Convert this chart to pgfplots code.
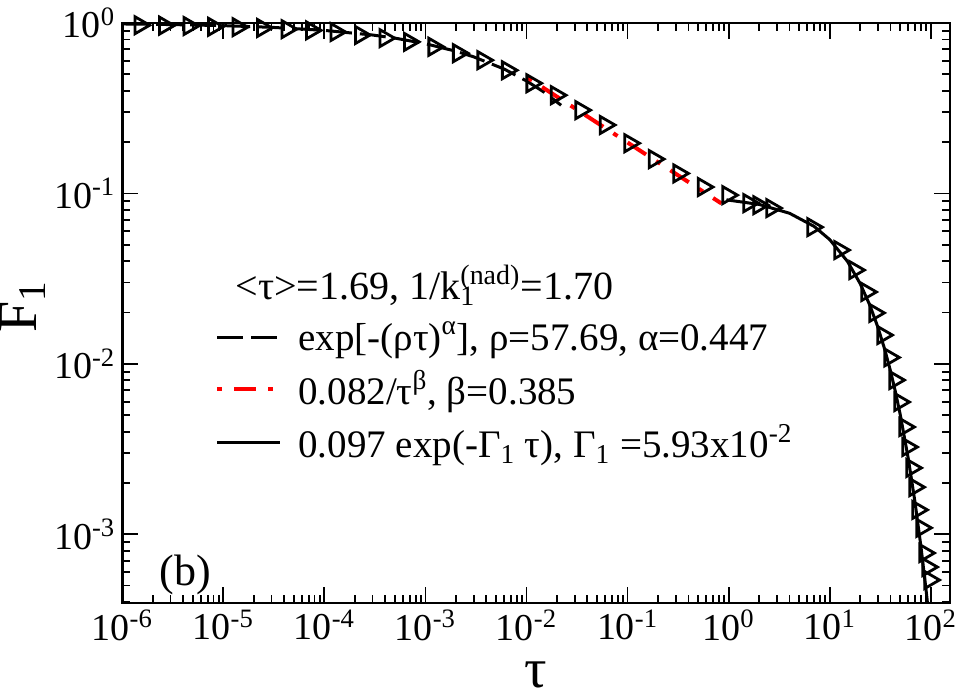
\documentclass[border=0pt]{standalone}
\usepackage{fontspec}
\setmainfont{Liberation Serif}
\usepackage{pgfplots}
\pgfplotsset{compat=1.18}
\begin{document}
\begin{tikzpicture}
\begin{axis}[
  name=ax,
  xmode=log, ymode=log,
  scale only axis, width=414pt, height=290pt,
  xmin=1e-6, xmax=155, ymin=3.96e-4, ymax=1,
  xtick={1e-6,1e-5,1e-4,1e-3,1e-2,1e-1,1,10,100},
  xticklabels={10\textsuperscript{-6},10\textsuperscript{-5},10\textsuperscript{-4},10\textsuperscript{-3},10\textsuperscript{-2},10\textsuperscript{-1},10\textsuperscript{0},10\textsuperscript{1},10\textsuperscript{2}},
  ytick={1e-3,1e-2,1e-1,1},
  yticklabels={10\textsuperscript{-3},10\textsuperscript{-2},10\textsuperscript{-1},10\textsuperscript{0}},
  minor xtick={2e-6,3e-6,4e-6,5e-6,6e-6,7e-6,8e-6,9e-6,
               2e-5,3e-5,4e-5,5e-5,6e-5,7e-5,8e-5,9e-5,
               2e-4,3e-4,4e-4,5e-4,6e-4,7e-4,8e-4,9e-4,
               2e-3,3e-3,4e-3,5e-3,6e-3,7e-3,8e-3,9e-3,
               2e-2,3e-2,4e-2,5e-2,6e-2,7e-2,8e-2,9e-2,
               2e-1,3e-1,4e-1,5e-1,6e-1,7e-1,8e-1,9e-1,
               2,3,4,5,6,7,8,9,
               20,30,40,50,60,70,80,90},
  minor ytick={4e-4,5e-4,6e-4,7e-4,8e-4,9e-4,
               2e-3,3e-3,4e-3,5e-3,6e-3,7e-3,8e-3,9e-3,
               2e-2,3e-2,4e-2,5e-2,6e-2,7e-2,8e-2,9e-2,
               2e-1,3e-1,4e-1,5e-1,6e-1,7e-1,8e-1,9e-1},
  tick align=inside,
  major tick length=8pt, minor tick length=4pt,
  tick style={black, line width=0.9pt},
  axis line style={line width=1.3pt},
  tick label style={font=\fontsize{19}{22}\selectfont},
  xlabel={τ}, ylabel={F\textsubscript{1}},
  label style={font=\fontsize{28}{32}\selectfont, inner sep=0pt},
  xlabel style={at={(axis description cs:0.5,-0.124)}, anchor=center},
  ylabel style={at={(axis description cs:-0.12,0.51)}, anchor=center},
  legend style={draw=none, fill=none, at={(0.112,0.490)}, anchor=north west,
    font=\fontsize{19.5}{23}\selectfont, row sep=5.5pt, column sep=6.5pt, inner sep=0pt,
    nodes={inner sep=1.5pt}, cells={anchor=west}},
  legend image code/.code={\draw[#1] (0pt,0pt) -- (31.5pt,0pt);},
]
\addplot[black, line width=1.5pt, dash pattern=on 13pt off 4pt] coordinates {
(1e-6,0.987) (3e-6,0.979) (1e-5,0.965) (3e-5,0.943) (1e-4,0.905) (3e-4,0.850)
(5e-4,0.815) (1e-3,0.756) (2e-3,0.683) (3e-3,0.633) (6e-3,0.537) (1e-2,0.457)
(1.5e-2,0.392) (2.2e-2,0.329)};
\addlegendentry{exp[-(ρτ)\textsuperscript{α}], ρ=57.69, α=0.447}
\addplot[red, line width=2pt, dash pattern=on 2.5pt off 6pt on 11pt off 6pt] coordinates {
(0.0103,0.477) (0.849,0.0873)};
\addlegendentry{0.082/τ\textsuperscript{β}, β=0.385}
\addplot[black, line width=1.5pt] coordinates {
(0.95,0.0917) (2,0.0862) (4,0.0765) (7,0.0641) (10,0.0536) (15,0.0399) (20,0.0296)
(25,0.02203) (30,0.01637) (35,0.01218) (40,0.00905) (45,0.00673) (50,0.00500)
(60,0.002765) (70,0.001528) (80,0.000844) (90,0.000467) (95,0.000347)};
\addlegendentry{0.097 exp(-Γ\textsubscript{1} τ), Γ\textsubscript{1} =5.93x10\textsuperscript{-2}}
\addplot[black, only marks, mark=triangle, mark size=4.9pt, mark options={rotate=-90, solid, line width=1.4pt}, forget plot] coordinates {
(1.496e-6,0.970) (2.615e-6,0.965) (4.566e-6,0.960) (7.975e-6,0.950) (1.393e-5,0.945)
(2.434e-5,0.935) (4.252e-5,0.920) (7.43e-5,0.905) (1.298e-4,0.885) (2.268e-4,0.850)
(3.963e-4,0.815) (6.923e-4,0.775) (1.209e-3,0.725) (2.113e-3,0.665) (3.692e-3,0.605)
(6.449e-3,0.528) (1.127e-2,0.443) (1.968e-2,0.377) (3.439e-2,0.308) (6.008e-2,0.252)
(0.105,0.197) (0.1834,0.159) (0.3204,0.131) (0.5598,0.109) (0.978,0.0977)
(1.58,0.0877) (1.98,0.0853) (2.66,0.082) (6.77,0.0634) (12.53,0.0465)
(17.63,0.0355) (23.2,0.0264) (27.8,0.0199) (33.4,0.01475) (39.1,0.0109)
(43.9,0.00803) (49.2,0.00597) (55.1,0.00426) (59.0,0.00325) (64.7,0.00245)
(69.2,0.00189) (74.1,0.00139) (81.1,0.00109) (86.9,0.000776) (93.1,0.000642)
(97.5,0.000539)};
\node[anchor=west, font=\fontsize{20}{24}\selectfont, inner sep=0pt] at (rel axis cs:0.1365,0.548)
  {<τ>=1.69, 1/k\rlap{\textsubscript{1}}\textsuperscript{(nad)}=1.70};
\node[anchor=west, font=\fontsize{22}{26}\selectfont, inner sep=0pt] at (rel axis cs:0.0445,0.048) {(b)};
\coordinate (bl) at (rel axis cs:0,0);
\coordinate (tr) at (rel axis cs:1,1);
\end{axis}
\pgfresetboundingbox
\path ([shift={(-61.15pt,-44.5pt)}]bl) rectangle ([shift={(5pt,11.5pt)}]tr);
\end{tikzpicture}
\end{document}
